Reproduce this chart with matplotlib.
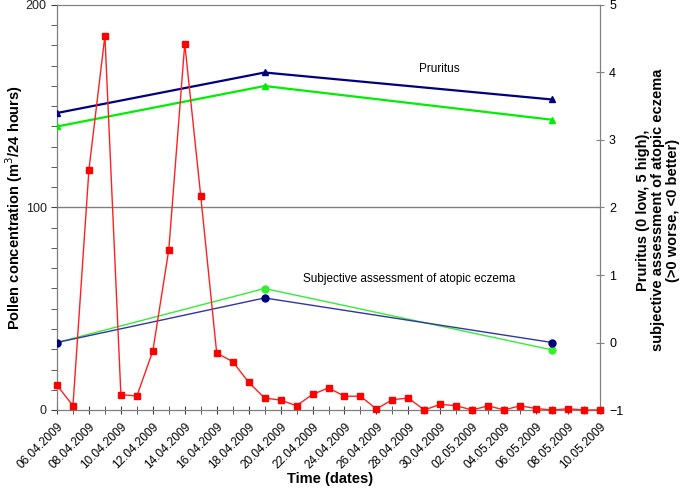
import matplotlib
matplotlib.use("Agg")
import matplotlib.pyplot as plt
import numpy as np
import datetime as dt

plt.rcParams['font.family'] = ['Liberation Sans', 'DejaVu Sans']

start = dt.date(2009, 4, 6)
dates = [start + dt.timedelta(days=i) for i in range(35)]
date_labels = [d.strftime("%d.%m.%Y") for d in dates]

pollen = [12.2, 2.1, 118.7, 184.8, 7.6, 6.9, 29.1, 79.2, 180.9, 105.7,
          28.1, 23.9, 13.7, 5.9, 4.9, 2.1, 7.7, 10.9, 6.8, 6.8,
          0.5, 5.1, 5.9, 0.0, 2.8, 2.1, 0.0, 2.1, 0.0, 2.1,
          0.7, 0.0, 0.6, 0.0, 0.0]

assess_days = [0, 13, 31]
pruritus_blue = [3.4, 4.0, 3.6]
pruritus_green = [3.2, 3.8, 3.3]
eczema_blue = [0.0, 0.66, 0.0]
eczema_green = [0.0, 0.8, -0.11]

fig = plt.figure(figsize=(6.88, 4.94), dpi=100)
ax = fig.add_axes([57/688, 1-410/494, (600-57)/688, (410-5)/494])
ax2 = ax.twinx()

x = np.arange(len(pollen))
ax.set_xlim(0, 34)
ax.set_ylim(0, 200)
ax2.set_ylim(-1, 5)

ax.axhline(100, color='#808080', lw=1, zorder=1)

ax2.plot(assess_days, pruritus_blue, color='#000080', lw=1.6, marker='^', ms=5, zorder=3)
ax2.plot(assess_days, pruritus_green, color='#00EE00', lw=1.6, marker='^', ms=5, zorder=3)
ax2.plot(assess_days, eczema_green, color='#33EE33', lw=1.0, marker='o', ms=5, zorder=3)
ax2.plot(assess_days, eczema_blue, color='#3333AA', lw=1.0, marker='o', ms=5,
         mfc='#000080', mec='#000080', zorder=3)
ax2.plot(x, np.array(pollen) / 200 * 6 - 1, color='#FF2020', lw=1.0, marker='s', ms=4.5,
         mfc='#FF0000', mec='#FF0000', zorder=4, clip_on=False)

fig.text(419/688, 1-69/494, "Pruritus", ha='left', va='center', fontsize=8.5)
fig.text(409/688, 1-279/494, "Subjective assessment of atopic eczema", ha='center', va='center', fontsize=8.5)

for s in ['left', 'right', 'top', 'bottom']:
    ax.spines[s].set_color('#808080')
    ax2.spines[s].set_color('#808080')
ax.spines['left'].set_color('#404040')
ax.spines['bottom'].set_color('#404040')

ax.set_yticks([0, 100, 200])
ax.set_yticks(np.arange(0, 201, 10), minor=True)
ax.tick_params(axis='y', which='both', direction='out', length=4, color='#404040', labelsize=9)
ax.tick_params(axis='y', which='major', labelcolor='#202020')

ax.set_xticks(np.arange(0, 35, 2))
ax.set_xticklabels(date_labels[::2], rotation=45, ha='right', rotation_mode='anchor', fontsize=8.5)
ax.set_xticks(np.arange(0, 35, 1), minor=True)
ax.tick_params(axis='x', which='both', direction='inout', length=6, color='#404040', pad=5)

ax2.set_yticks(np.arange(-1, 6, 1))
ax2.set_yticklabels(['\u22121', '0', '1', '2', '3', '4', '5'])
ax2.tick_params(axis='y', direction='inout', length=6, color='#808080', labelsize=9)

fig.text(14/688, 1-208/494, "Pollen concentration (m$^3$/24 hours)", rotation=90,
         ha='center', va='center', fontsize=10.5, fontweight='bold')
fig.text(330/688, 1-479/494, "Time (dates)", ha='center', va='center', fontsize=10.5, fontweight='bold')
fig.text(658/688, 1-210/494,
         "Pruritus (0 low, 5 high),\nsubjective assessment of atopic eczema\n(>0 worse, <0 better)",
         rotation=90, ha='center', va='center', multialignment='center',
         fontsize=10.5, fontweight='bold', linespacing=1.05)

fig.savefig("out.png", dpi=100)
